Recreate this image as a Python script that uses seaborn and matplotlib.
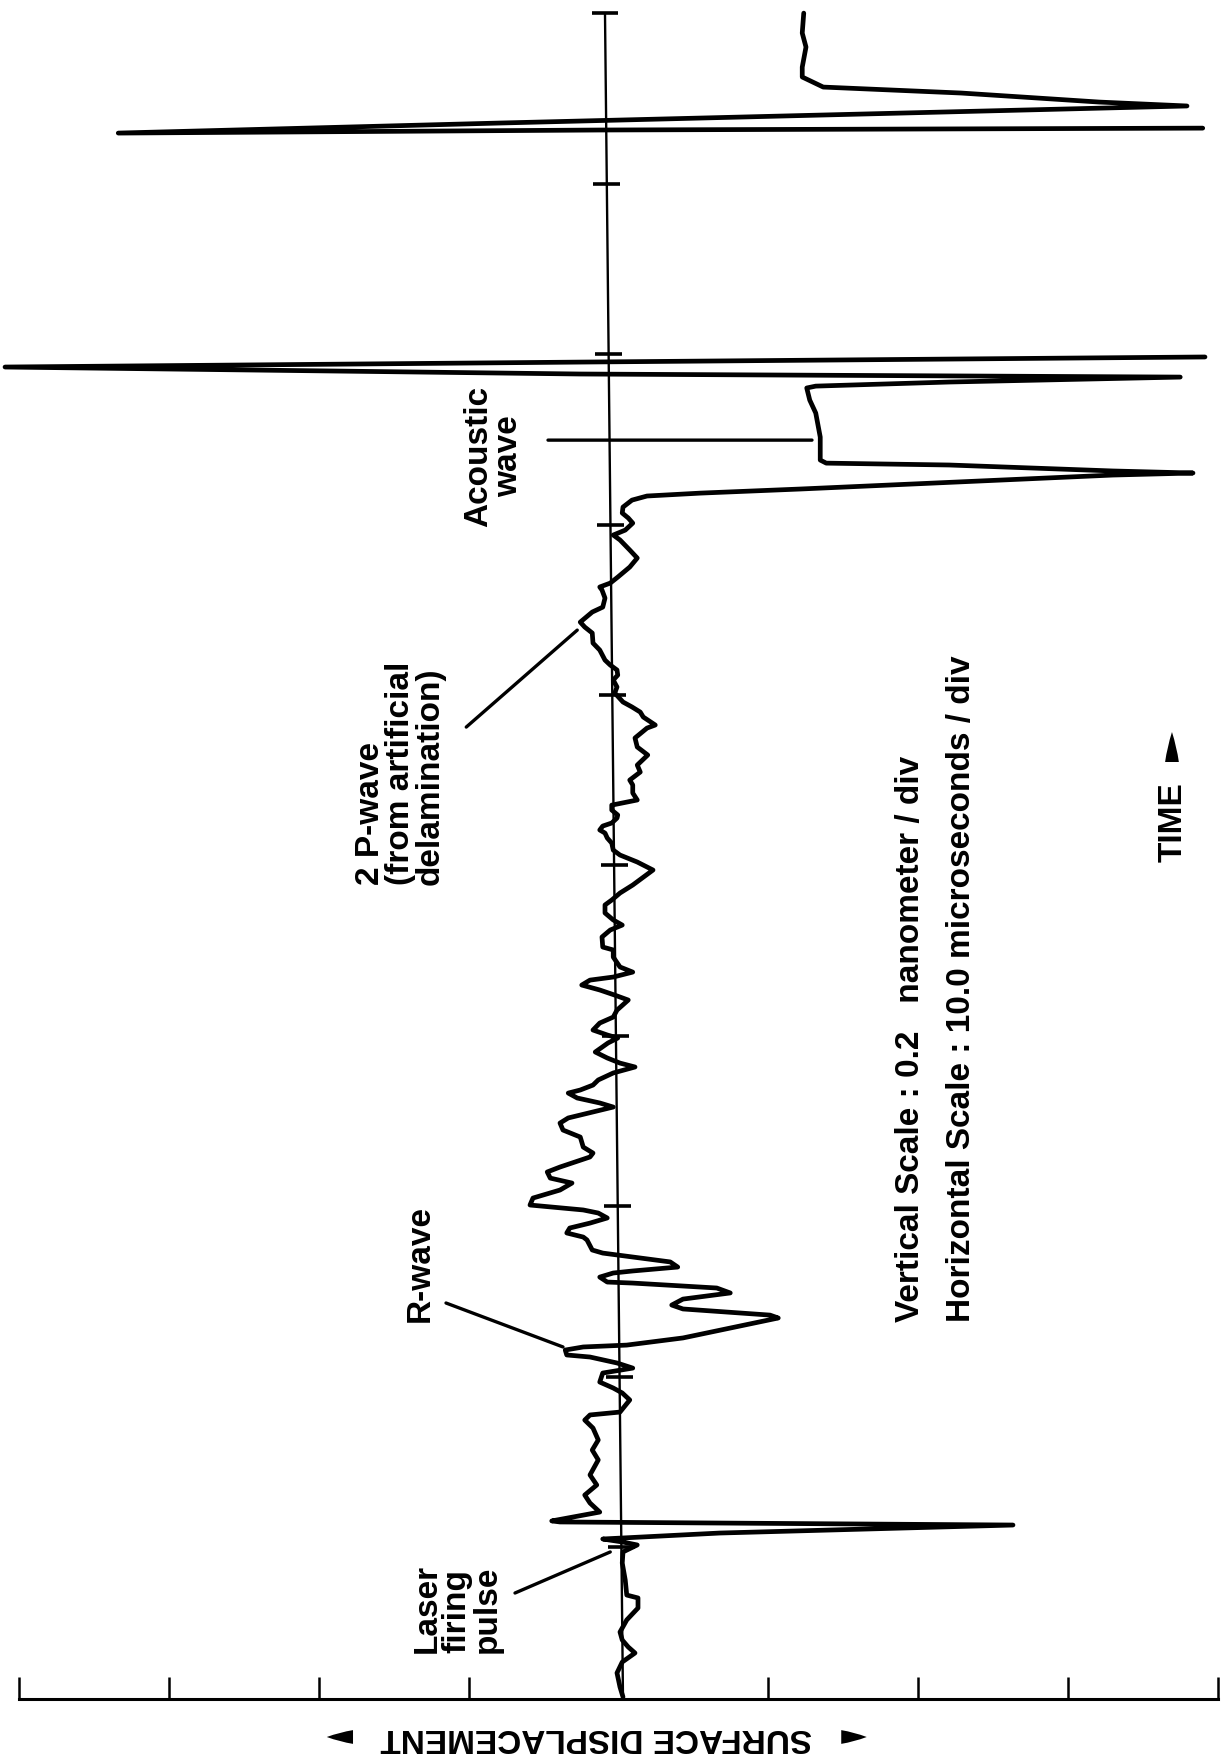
import numpy as np
import pandas as pd
import matplotlib
matplotlib.use("Agg")
import matplotlib.pyplot as plt
import seaborn as sns

# ---------------- data (time in microseconds, displacement in nm) ----------------
time_main = [-8.80, -8.22, -7.39, -6.75, -6.22, -5.87, -5.46, -4.99, -4.28, -3.58,
             -2.99, -2.82, -1.94, -0.94, -0.29, 0.12, 0.29, 0.47, 0.82, 1.29,
             1.41, 1.47, 1.53, 2.05, 2.58, 3.05, 3.64, 4.23, 5.11, 5.69,
             6.28, 6.98, 7.45, 7.75, 7.92, 8.63, 9.04, 9.33, 9.68, 10.21,
             10.50, 10.80, 11.15, 11.27, 11.56, 11.74, 11.85, 12.27, 13.44, 13.61,
             13.97, 14.20, 14.55, 14.91, 15.20, 15.49, 15.55, 15.84, 16.08, 16.20,
             16.43, 16.73, 17.02, 17.25, 17.43, 18.02, 18.19, 18.43, 18.72, 19.01,
             19.31, 19.60, 19.78, 19.89, 20.07, 20.48, 20.95, 21.36, 21.65, 22.01,
             22.30, 22.89, 23.12, 23.47, 24.06, 24.47, 24.88, 25.18, 25.82, 26.06,
             26.35, 26.64, 26.82, 27.11, 27.41, 27.82, 28.17, 28.40, 28.70, 29.05,
             29.58, 29.87, 30.05, 30.34, 30.75, 31.10, 31.51, 32.10, 32.39, 32.69,
             32.98, 33.27, 33.45, 33.74, 34.04, 34.62, 35.04, 35.21, 35.80, 36.21,
             36.50, 36.80, 37.21, 37.68, 37.97, 38.38, 38.85, 39.73, 40.20, 40.61,
             40.90, 41.31, 41.61, 41.90, 42.08, 42.31, 42.49, 42.78, 42.96, 43.25,
             43.54, 43.84, 44.25, 44.72, 45.01, 45.48, 45.89, 46.48, 46.95, 47.48,
             48.06, 48.24, 48.71, 49.00, 49.30, 49.59, 50.12, 50.47, 50.88, 51.17,
             51.47, 51.76, 52.05, 52.64, 53.05, 53.64, 53.99, 54.28, 54.87, 55.16,
             55.69, 56.16, 56.34, 56.57, 56.92, 57.51, 58.04, 58.51, 59.10, 59.39,
             59.68, 60.09, 60.39, 60.68, 61.03, 61.44, 61.68, 61.85, 62.09, 62.91,
             63.03, 63.15, 63.50, 63.61, 63.79, 65.14, 66.55, 67.31, 68.02, 68.13,
             68.37, 68.66, 68.84, 69.25, 69.54, 69.84]
disp_main = [0.006, 0.002, -0.002, 0.005, 0.022, 0.013, 0.005, 0.002, 0.011, 0.026,
             0.026, 0.011, 0.009, 0.005, 0.006, 0.025, 0.006, -0.021, 0.135, 0.526,
             0.135, -0.078, -0.089, -0.025, -0.038, -0.045, -0.029, -0.038, -0.027, -0.035,
             -0.027, -0.034, -0.045, -0.038, 0.002, 0.015, 0.005, -0.007, -0.025, -0.021,
             0.019, -0.002, -0.038, -0.069, -0.071, -0.047, 0.011, 0.086, 0.213, 0.202,
             0.086, 0.071, 0.086, 0.149, 0.131, 0.019, -0.015, -0.025, -0.007, 0.019,
             0.079, 0.069, 0.019, -0.021, -0.035, -0.042, -0.047, -0.069, -0.065, -0.038,
             -0.015, -0.027, -0.047, -0.074, -0.118, -0.114, -0.078, -0.062, -0.091, -0.095,
             -0.078, -0.038, -0.034, -0.047, -0.051, -0.074, -0.078, -0.067, -0.007, -0.025,
             -0.055, -0.067, -0.051, -0.034, -0.027, -0.007, 0.022, 0.002, -0.015, -0.031,
             -0.014, -0.001, -0.015, -0.034, -0.025, -0.007, -0.002, 0.013, -0.005, -0.025,
             -0.049, -0.038, -0.007, 0.019, 0.002, -0.007, -0.007, -0.021, -0.022, -0.011,
             0.005, -0.007, -0.018, -0.018, -0.009, 0.002, 0.019, 0.046, 0.025, 0.002,
             -0.007, -0.009, -0.015, -0.018, -0.025, -0.021, -0.009, -0.002, -0.001, -0.009,
             -0.009, 0.025, 0.019, 0.019, 0.015, 0.029, 0.025, 0.039, 0.025, 0.022,
             0.038, 0.049, 0.033, 0.029, 0.018, 0.006, -0.005, -0.002, -0.007, -0.001,
             -0.002, -0.011, -0.018, -0.025, -0.034, -0.035, -0.045, -0.051, -0.035, -0.021,
             -0.018, -0.022, -0.025, -0.011, -0.001, 0.015, 0.025, 0.015, 0.002, -0.007,
             0.009, 0.019, 0.013, 0.005, 0.006, 0.018, 0.038, 0.109, 0.242, 0.659,
             0.766, 0.659, 0.441, 0.277, 0.269, 0.269, 0.263, 0.255, 0.251, 0.263,
             0.441, 0.749, -0.051, -0.818, -0.051, 0.782]
time_top = [83.27, 83.16, 82.98, 83.57, 84.57, 84.80, 85.33, 85.68, 86.27, 86.85,
            88.03, 88.85, 90.02]
disp_top = [0.779, -0.025, -0.667, -0.158, 0.758, 0.641, 0.457, 0.273, 0.245, 0.245,
            0.250, 0.245, 0.247]

axis_time = [89.96, -8.92]          # zero-displacement time axis (as drawn)
axis_disp = [-0.018, 0.006]
time_ticks = [0, 10, 20, 30, 40, 50, 60, 70, 80, 90]
disp_ticks = [-0.8, -0.6, -0.4, -0.2, 0.2, 0.4, 0.6, 0.8]

df = pd.DataFrame({
    "disp": disp_main + disp_top,
    "time": time_main + time_top,
    "seg": [0] * len(time_main) + [1] * len(time_top),
})

# ---------------- figure ----------------
sns.set_theme(style="white")
plt.rcParams["font.family"] = ["Liberation Sans", "DejaVu Sans"]

W, H = 1222, 1757
fig = plt.figure(figsize=(W / 100, H / 100), dpi=100)
ax = fig.add_axes([0, 58 / H, 1, 1 - 58 / H])
ax.set_xlim(-0.8247, 0.8047)
ax.set_ylim(-8.92, 90.79)

ink = "black"
sns.lineplot(data=df, x="disp", y="time", units="seg", estimator=None, sort=False,
             color=ink, lw=3.4, ax=ax, legend=False,
             solid_joinstyle="round", solid_capstyle="round")
for ln in ax.lines:
    ln.set_clip_on(False)

# time axis (zero displacement) with division marks
ax.plot(axis_disp, axis_time, color=ink, lw=1.7, clip_on=False)
tick_d = np.interp(time_ticks, axis_time[::-1], axis_disp[::-1])
ax.hlines(time_ticks, tick_d - 0.018, tick_d + 0.018, color=ink, lw=2.6)

# displacement axis as bottom spine
for s in ["top", "left", "right"]:
    ax.spines[s].set_visible(False)
ax.spines["bottom"].set_bounds(-0.8, 0.8)
ax.spines["bottom"].set_linewidth(2.2)
ax.spines["bottom"].set_color(ink)
ax.set_xticks(disp_ticks)
ax.set_yticks([])
ax.tick_params(axis="x", direction="in", length=16, width=1.8, color=ink,
               bottom=True, labelbottom=False)
ax.set_xlabel("SURFACE DISPLACEMENT", rotation=180, fontsize=24, fontweight="bold",
              color=ink)
ax.xaxis.set_label_coords(0.4877, -0.0224)
ax.xaxis.label.set_va("center")
ax.set_ylabel("")

txt = dict(color=ink, fontsize=24, fontweight="bold", rotation=90,
           rotation_mode="anchor")
ax.text(-0.215, -6.22, "Laser\nfiring\npulse", ha="left", va="center",
        multialignment="left", linespacing=0.95, **txt)
ax.text(-0.265, 13.20, "R-wave", ha="left", va="center", **txt)
ax.text(-0.291, 38.85, "2 P-wave\n(from artificial\ndelamination)", ha="left",
        va="center", multialignment="left", linespacing=0.95, **txt)
ax.text(-0.166, 64.03, "Acoustic\nwave", ha="center", va="center",
        multialignment="center", linespacing=0.95, **txt)
ax.text(0.389, 13.20, "Vertical Scale : 0.2   nanometer / div", ha="left",
        va="center", **txt)
ax.text(0.457, 13.20, "Horizontal Scale : 10.0 microseconds / div", ha="left",
        va="center", **txt)
ax.text(0.740, 40.20, "TIME", ha="left", va="center", **txt)

lead = dict(arrowstyle="-", lw=2.4, color=ink, shrinkA=0, shrinkB=0)
ax.annotate("", xy=(-0.011, -0.29), xytext=(-0.138, -2.70), arrowprops=lead,
            annotation_clip=False)
ax.annotate("", xy=(-0.074, 11.74), xytext=(-0.230, 14.32), arrowprops=lead)
ax.annotate("", xy=(-0.055, 53.81), xytext=(-0.203, 48.12), arrowprops=lead)
ax.annotate("", xy=(0.258, 64.96), xytext=(-0.094, 64.96), arrowprops=lead)

wedge = dict(arrowstyle="wedge,tail_width=0.55,shrink_factor=0.6", color=ink,
             lw=0, shrinkA=0, shrinkB=0, mutation_scale=18)
ax.annotate("", xy=(0.738, 47.83), xytext=(0.738, 46.07), arrowprops=wedge,
            annotation_clip=False)
ax.annotate("", xy=(-0.389, -11.15), xytext=(-0.354, -11.15), arrowprops=wedge,
            annotation_clip=False)
ax.annotate("", xy=(0.331, -11.15), xytext=(0.297, -11.15), arrowprops=wedge,
            annotation_clip=False)

fig.savefig("out.png", dpi=100, facecolor="white")
